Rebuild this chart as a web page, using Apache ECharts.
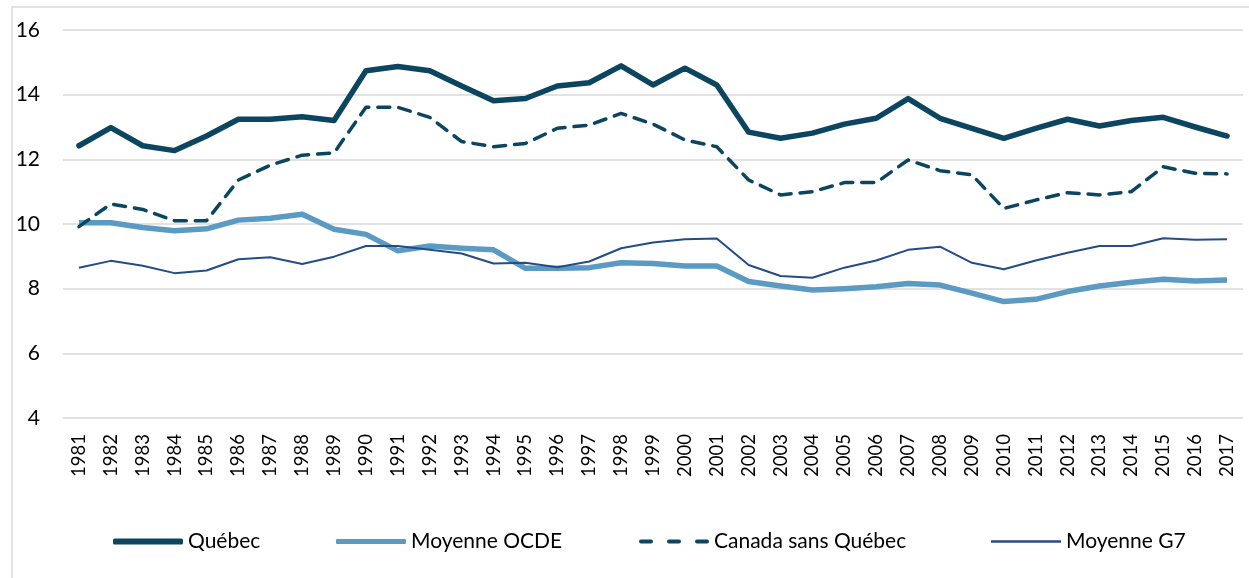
<!DOCTYPE html>
<html>
<head>
<meta charset="utf-8">
<script src="https://cdn.jsdelivr.net/npm/echarts@6/dist/echarts.min.js"></script>
<style>
html,body{margin:0;padding:0;background:#fff;}
#chart{width:1249px;height:578px;}
</style>
</head>
<body>
<div id="chart"></div>
<script>
const years = ['1981','1982','1983','1984','1985','1986','1987','1988','1989','1990','1991','1992','1993','1994','1995','1996','1997','1998','1999','2000','2001','2002','2003','2004','2005','2006','2007','2008','2009','2010','2011','2012','2013','2014','2015','2016','2017'];
const quebec = [12.42,12.98,12.42,12.27,12.72,13.24,13.24,13.32,13.2,14.74,14.87,14.74,14.27,13.81,13.88,14.27,14.37,14.89,14.3,14.82,14.3,12.84,12.65,12.81,13.09,13.27,13.88,13.27,12.96,12.65,12.96,13.24,13.03,13.2,13.3,13.0,12.72];
const ocde = [10.04,10.04,9.89,9.79,9.85,10.12,10.18,10.3,9.84,9.68,9.17,9.32,9.25,9.2,8.63,8.63,8.65,8.8,8.78,8.7,8.7,8.22,8.08,7.96,8.0,8.06,8.16,8.11,7.86,7.6,7.67,7.91,8.08,8.2,8.29,8.24,8.27];
const canadaSansQc = [9.92,10.62,10.45,10.1,10.1,11.36,11.82,12.13,12.2,13.61,13.61,13.3,12.55,12.39,12.49,12.96,13.06,13.42,13.09,12.6,12.39,11.36,10.9,11.0,11.28,11.28,11.98,11.65,11.52,10.48,10.74,10.97,10.9,11.0,11.77,11.57,11.55];
const g7 = [8.65,8.86,8.71,8.48,8.56,8.91,8.97,8.76,8.99,9.32,9.32,9.2,9.09,8.78,8.8,8.66,8.84,9.25,9.43,9.53,9.55,8.73,8.39,8.34,8.65,8.87,9.2,9.3,8.8,8.6,8.87,9.11,9.32,9.32,9.56,9.51,9.53];
const seriesNames = ['Québec','Moyenne OCDE','Canada sans Québec','Moyenne G7'];

const FONT = 'Lato, "Open Sans", sans-serif';
const cDark = '#0b4560';
const cLight = '#5b9bc3';
const cG7 = '#244c86';

const chart = echarts.init(document.getElementById('chart'), null, {renderer:'canvas'});
function legend(name, left, icon, h, color){
  return {
    data:[{name:name, icon:icon, itemStyle:{color:color, borderWidth:0}}],
    left:left, top:526, itemWidth:70, itemHeight:h,
    textStyle:{fontFamily:FONT, fontSize:21, color:'#000'},
    selectedMode:false
  };
}
const dashIcon = 'path://M2,0h10a2,2 0 0 1 0,4h-10a2,2 0 0 1 0,-4z M30,0h10a2,2 0 0 1 0,4h-10a2,2 0 0 1 0,-4z M58,0h10a2,2 0 0 1 0,4h-10a2,2 0 0 1 0,-4z';
chart.setOption({
  animation:false,
  backgroundColor:'#fff',
  graphic:[{type:'rect', shape:{x:12,y:7,width:1400,height:700}, style:{fill:'none', stroke:'#d9d9d9', lineWidth:1.5}, silent:true}],
  legend:[
    legend(seriesNames[0],108,'roundRect',6,cDark),
    legend(seriesNames[1],331,'roundRect',5,cLight),
    legend(seriesNames[2],634,dashIcon,4,cDark),
    legend(seriesNames[3],986,'rect',2.5,cG7)
  ],
  grid:{left:63, right:6, top:30, height:388},
  xAxis:{
    type:'category', data:years, boundaryGap:true,
    axisLine:{show:false}, axisTick:{show:false},
    axisLabel:{rotate:90, margin:16, fontFamily:FONT, fontSize:18.5, color:'#000', interval:0}
  },
  yAxis:{
    type:'value', min:4, max:16, interval:2,
    axisLine:{show:false}, axisTick:{show:false},
    axisLabel:{margin:23, fontFamily:FONT, fontSize:21, color:'#000'},
    splitLine:{lineStyle:{color:'#d9d9d9', width:1.5}}
  },
  series:[
    {name:seriesNames[0], type:'line', data:quebec, symbol:'none', z:5,
     lineStyle:{color:cDark, width:5.5, cap:'round', join:'round'}, itemStyle:{color:cDark}},
    {name:seriesNames[1], type:'line', data:ocde, symbol:'none', z:3,
     lineStyle:{color:cLight, width:5.5, cap:'butt', join:'round'}, itemStyle:{color:cLight}},
    {name:seriesNames[2], type:'line', data:canadaSansQc, symbol:'none', z:4,
     lineStyle:{color:cDark, width:3.5, type:[12,9], cap:'round', join:'round'}, itemStyle:{color:cDark}},
    {name:seriesNames[3], type:'line', data:g7, symbol:'none', z:4,
     lineStyle:{color:cG7, width:2, join:'round'}, itemStyle:{color:cG7}}
  ]
});
</script>
</body>
</html>
